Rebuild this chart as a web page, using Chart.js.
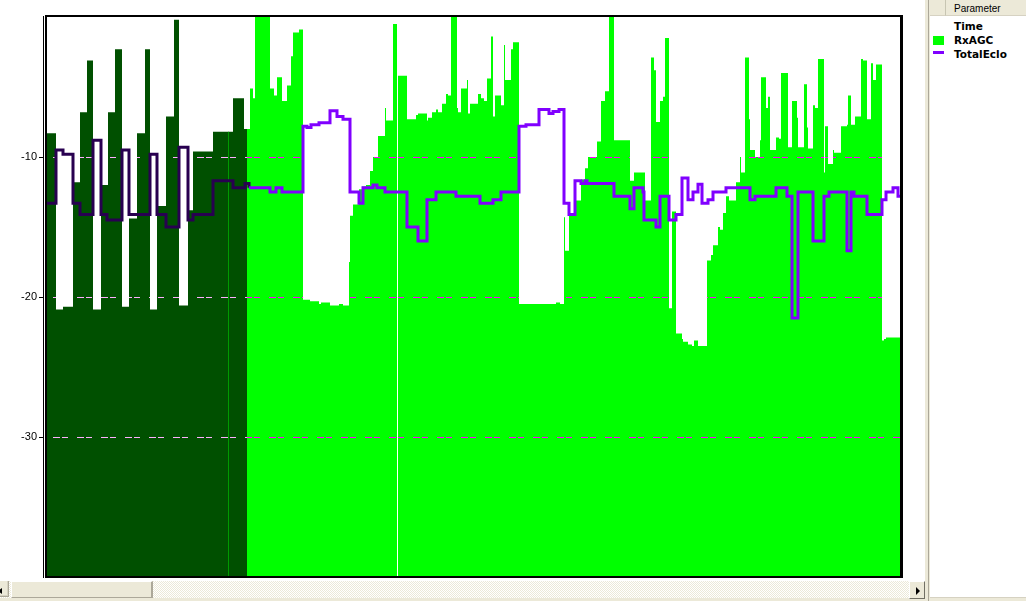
<!DOCTYPE html>
<html>
<head>
<meta charset="utf-8">
<script src="https://cdn.jsdelivr.net/npm/chart.js@4.4.1/dist/chart.umd.min.js"></script>
<style>
html,body{margin:0;padding:0;width:1026px;height:601px;overflow:hidden;background:#ECE9D8;}
#plot{position:absolute;left:0;top:0;width:925px;height:581px;background:#fff;}
#c{position:absolute;left:0;top:0;}
#track{position:absolute;left:0;top:581px;width:909px;height:17px;background:repeating-conic-gradient(#ECE9D8 0 25%,#fff 0 50%) 0 0/2px 2px;}
#lbtn{position:absolute;left:0;top:581px;width:8px;height:15px;background:#ECE9D8;border-right:1px solid #ACA899;border-bottom:1px solid #ACA899;box-shadow:inset -1px -1px 0 #D6D2C2;}
#lbtn i{position:absolute;left:-2px;top:7px;width:0;height:0;border-right:4px solid #000;border-top:3px solid transparent;border-bottom:3px solid transparent;}
#thumb{position:absolute;left:11px;top:581px;width:139px;height:15px;background:#ECE9D8;border-left:1px solid #fff;border-top:1px solid #fff;border-right:2px solid #ACA899;border-bottom:1px solid #ACA899;}
#rbtn{position:absolute;left:909px;top:581px;width:14px;height:16px;background:#ECE9D8;border-left:1px solid #fff;border-top:1px solid #fff;border-right:1px solid #716F64;border-bottom:1px solid #716F64;}
#rbtn i{position:absolute;left:6px;top:5px;width:0;height:0;border-left:4px solid #000;border-top:4px solid transparent;border-bottom:4px solid transparent;}
#split{position:absolute;left:925px;top:0;width:5px;height:601px;background:#ECE9D8;}
#split i{position:absolute;left:3px;top:0;width:1px;height:601px;background:#ACA899;}
#panel{position:absolute;left:930px;top:0;width:96px;height:597px;background:#fff;border-bottom:1px solid #D6D2C2;}
.hdr{position:absolute;top:0;height:15px;background:#ECE9D8;border-bottom:1px solid #D6D2C2;}
#h1{left:0;width:15px;border-right:1px solid #C7C5B2;}
#h2{left:16px;width:80px;}
#h2 span{position:absolute;left:8px;top:1px;font:10px "Liberation Sans",Arial,sans-serif;line-height:16px;color:#000;}
.row{position:absolute;left:24px;font:bold 10.5px "DejaVu Sans",Verdana,sans-serif;line-height:14px;color:#000;white-space:nowrap;}
.sw{position:absolute;left:3px;width:11px;}
</style>
</head>
<body>
<div id="plot"><canvas id="c" width="925" height="580"></canvas></div>
<div id="track"></div>
<div id="lbtn"><i></i></div>
<div id="thumb"></div>
<div id="rbtn"><i></i></div>
<div id="split"><i></i></div>
<div id="panel">
  <div class="hdr" id="h1"></div>
  <div class="hdr" id="h2"><span>Parameter</span></div>
  <div class="row" style="top:19px">Time</div>
  <div class="sw" style="top:36px;height:9px;background:#00FF00"></div>
  <div class="row" style="top:33px">RxAGC</div>
  <div class="sw" style="top:51px;height:3px;background:#8000FF"></div>
  <div class="row" style="top:47px">TotalEclo</div>
</div>
<script>
// ---- data (time = sample position along the time axis) ----
const agcTime = [
  0, 9, 16, 26, 33, 40, 46, 54, 61, 68,
  75, 82, 90, 98, 103, 110, 119, 127, 132, 141,
  146, 166, 186, 197, 203, 206, 208, 223, 227, 230,
  235, 240, 244, 246, 252, 256, 263, 272, 274, 283,
  292, 296, 302, 303, 306, 312, 315, 319, 323, 326,
  331, 338, 339, 346, 350, 351, 360, 369, 371, 380,
  381, 385, 389, 391, 395, 399, 401, 404, 410, 411,
  414, 420, 421, 423, 431, 434, 437, 440, 444, 446,
  448, 454, 457, 458, 464, 466, 472, 509, 513, 517,
  518, 522, 529, 534, 538, 541, 550, 554, 558, 562,
  567, 571, 583, 587, 598, 604, 607, 609, 613, 616,
  618, 622, 625, 629, 635, 636, 641, 645, 647, 651,
  660, 664, 666, 671, 673, 676, 679, 682, 689, 693,
  694, 698, 702, 703, 708, 713, 714, 719, 721, 723,
  729, 732, 734, 741, 745, 750, 751, 757, 760, 761,
  766, 768, 771, 777, 778, 781, 786, 787, 794, 800,
  801, 804, 808, 814, 816, 820, 824, 826, 829, 835,
  837, 839
];
const agcValue = [
  -8.3, -20.9, -20.7, -11.8, -6.8, -3.1, -20.9, -12.0, -6.8, -2.3,
  -20.7, -14.4, -8.3, -2.3, -20.9, -13.5, -7.1, -0.2, -20.6, -13.8,
  -9.6, -8.2, -5.8, -8.0, -5.1, -5.8, 0, -5.1, -5.6, -4.3,
  -6.0, -4.9, -2.8, -1.1, -0.9, -20.2, -20.3, -20.5, -20.4, -20.6,
  -20.5, -20.6, -17.5, -14.2, -13.4, -12.3, -12.1, -12.0, -11.0, -10.0,
  -8.5, -6.5, -7.4, -0.5, -40, -4.2, -7.3, -7.0, -6.9, -7.4,
  -7.2, -6.8, -6.6, -6.8, -6.2, -5.5, -5.6, 0, -6.5, -6.8,
  -5.1, -4.5, -6.9, -6.2, -5.5, -5.8, -6.0, -4.4, -1.4, -7.1,
  -5.6, -6.3, -2.0, -4.5, -2.3, -1.8, -20.5, -20.4, -20.5, -14.3,
  -16.7, -14.0, -13.1, -11.6, -10.8, -10.0, -8.9, -6.0, -5.3, 0,
  -8.8, -8.8, -11.7, -11.1, -13.1, -2.9, -3.8, -7.5, -6.0, -5.7,
  -1.5, -20.8, -13.9, -22.6, -23.0, -23.2, -23.4, -23.5, -23.1, -23.5,
  -17.4, -17.0, -16.3, -15.0, -15.2, -14.0, -12.8, -13.1, -11.8, -10.0,
  -11.1, -2.9, -7.3, -9.5, -10.0, -8.8, -4.3, -6.5, -5.7, -9.5,
  -8.6, -8.7, -4.0, -9.3, -6.0, -7.2, -9.3, -4.8, -7.9, -9.4,
  -6.3, -6.5, -3.0, -11.1, -7.8, -10.5, -9.5, -9.7, -7.8, -7.7,
  -5.6, -7.7, -7.1, -3.0, -3.1, -7.3, -3.3, -4.5, -3.4, -23.1,
  -23.0, -22.9
];
const ecioTime = [
  0, 9, 16, 26, 33, 46, 54, 60, 75, 82,
  103, 110, 119, 132, 141, 146, 166, 186, 198, 202,
  223, 229, 235, 256, 260, 264, 272, 283, 290, 296,
  303, 312, 316, 326, 330, 338, 360, 371, 380, 389,
  409, 433, 446, 454, 472, 479, 492, 502, 506, 512,
  517, 522, 528, 534, 538, 540, 567, 583, 587, 596,
  597, 609, 613, 622, 629, 635, 641, 646, 651, 655,
  661, 666, 679, 703, 708, 729, 740, 745, 751, 766,
  777, 782, 800, 804, 807, 820, 835, 839, 846, 851
];
const ecioValue = [
  -13.3, -9.5, -9.8, -13.3, -14.1, -8.8, -14.1, -14.5, -9.5, -14.1,
  -9.8, -14.1, -15.0, -9.3, -14.5, -14.1, -11.7, -12.2, -11.9, -12.2,
  -12.5, -12.2, -12.5, -7.8, -7.9, -7.7, -7.55, -6.7, -7.1, -7.3,
  -12.5, -13.3, -12.2, -12.0, -12.2, -12.5, -15.0, -16.0, -13.05, -12.5,
  -12.8, -13.3, -13.05, -12.5, -7.8, -7.7, -6.6, -6.9, -6.75, -6.6,
  -13.3, -14.1, -11.7, -11.9, -11.7, -11.9, -12.8, -13.7, -12.2, -12.5,
  -14.5, -15.0, -12.8, -14.5, -14.1, -11.5, -13.05, -12.5, -11.95, -13.3,
  -13.05, -12.5, -12.2, -13.05, -12.8, -12.2, -12.8, -21.5, -12.5, -16.0,
  -12.8, -12.5, -16.7, -12.5, -12.8, -14.1, -13.05, -12.5, -12.2, -12.8
];
const timeEnd = 853;          // end of the visible time window
const selectionEnd = 200;     // highlighted (selected) time range ends here
const cursorTime = 181;       // time cursor inside the selection
const yTickValues = [-10, -20, -30];
const yMin = -40, yMax = 0;

// ---- helpers ----
function stepValueAt(times, values, t) {
  let v = values[0];
  for (let i = 0; i < times.length; i++) { if (times[i] <= t) v = values[i]; }
  return v;
}
function stepPoints(times, values, from, to) {
  const out = [];
  for (let i = 0; i < times.length; i++) {
    if (times[i] >= from && times[i] < to) out.push({x: times[i], y: values[i]});
  }
  if (!out.length || out[0].x > from) out.unshift({x: from, y: stepValueAt(times, values, from)});
  out.push({x: to, y: stepValueAt(times, values, to)});
  return out;
}

const GREEN = '#00FF00', GREEN_SEL = '#005000';
const PURPLE = '#8000FF', PURPLE_SEL = '#280050';

const overlays = {
  id: 'overlays',
  beforeDatasetDraw(chart, args) {
    if (args.index !== 0) return;
    const {ctx, chartArea: a, scales: {x, y}} = chart;
    ctx.save();
    // cursor line inside the selection
    const cx = Math.round(x.getPixelForValue(cursorTime)) + 0.5;
    ctx.strokeStyle = '#009A00';
    ctx.lineWidth = 1;
    ctx.beginPath();
    ctx.moveTo(cx, y.getPixelForValue(stepValueAt(agcTime, agcValue, cursorTime)));
    ctx.lineTo(cx, a.bottom);
    ctx.stroke();
    // XOR-like dashed grid lines
    ctx.globalCompositeOperation = 'difference';
    ctx.strokeStyle = '#FFFFFF';
    ctx.setLineDash([7, 2, 6, 9]);
    ctx.lineDashOffset = 18;
    for (const v of yTickValues) {
      const py = Math.round(y.getPixelForValue(v)) + 0.5;
      ctx.beginPath();
      ctx.moveTo(a.left, py);
      ctx.lineTo(a.right, py);
      ctx.stroke();
    }
    ctx.restore();
  },
  afterDraw(chart) {
    const {ctx, chartArea: a} = chart;
    const w = a.right - a.left, h = a.bottom - a.top;
    ctx.save();
    ctx.fillStyle = '#FFFFFF';
    ctx.fillRect(a.left - 3, a.top - 2, 1, h + 3);
    ctx.fillStyle = '#000000';
    ctx.fillRect(a.left - 4, a.top - 1, 1, h + 2);
    ctx.fillRect(a.left - 2, a.top - 2, w + 5, 2);
    ctx.fillRect(a.left - 2, a.bottom - 1, w + 5, 2);
    ctx.fillRect(a.left - 2, a.top - 2, 2, h + 3);
    ctx.fillRect(a.right, a.top - 2, 3, h + 3);
    ctx.restore();
  }
};

new Chart(document.getElementById('c'), {
  type: 'line',
  data: {
    datasets: [
      {
        label: 'TotalEclo',
        data: stepPoints(ecioTime, ecioValue, 0, timeEnd),
        stepped: true,
        borderColor: PURPLE,
        borderWidth: 3,
        pointRadius: 0,
        fill: false,
        segment: {
          borderColor: c => (c.p0.parsed.x < selectionEnd ? PURPLE_SEL : undefined)
        }
      },
      {
        label: 'RxAGC (selected)',
        data: stepPoints(agcTime, agcValue, 0, selectionEnd),
        stepped: true,
        borderColor: 'rgba(0,0,0,0)',
        borderWidth: 0,
        backgroundColor: GREEN_SEL,
        pointRadius: 0,
        fill: 'start'
      },
      {
        label: 'RxAGC',
        data: stepPoints(agcTime, agcValue, selectionEnd, timeEnd),
        stepped: true,
        borderColor: 'rgba(0,0,0,0)',
        borderWidth: 0,
        backgroundColor: GREEN,
        pointRadius: 0,
        fill: 'start'
      }
    ]
  },
  options: {
    responsive: false,
    animation: false,
    devicePixelRatio: 1,
    events: [],
    layout: {padding: {left: 0, top: 17, right: 25, bottom: 3}},
    plugins: {legend: {display: false}, tooltip: {enabled: false}},
    scales: {
      x: {type: 'linear', min: 0, max: timeEnd, display: false},
      y: {
        type: 'linear',
        min: yMin,
        max: yMax,
        afterBuildTicks: s => { s.ticks = yTickValues.map(v => ({value: v})); },
        afterFit: s => { s.width = 47; s.paddingTop = 0; s.paddingBottom = 0; },
        border: {display: false},
        grid: {display: true, drawOnChartArea: false, drawTicks: true, tickLength: 8, color: '#000', lineWidth: 1},
        ticks: {color: '#000', padding: 2, font: {family: '"Liberation Sans", Arial, sans-serif', size: 11}}
      }
    }
  },
  plugins: [overlays]
});
</script>
</body>
</html>
